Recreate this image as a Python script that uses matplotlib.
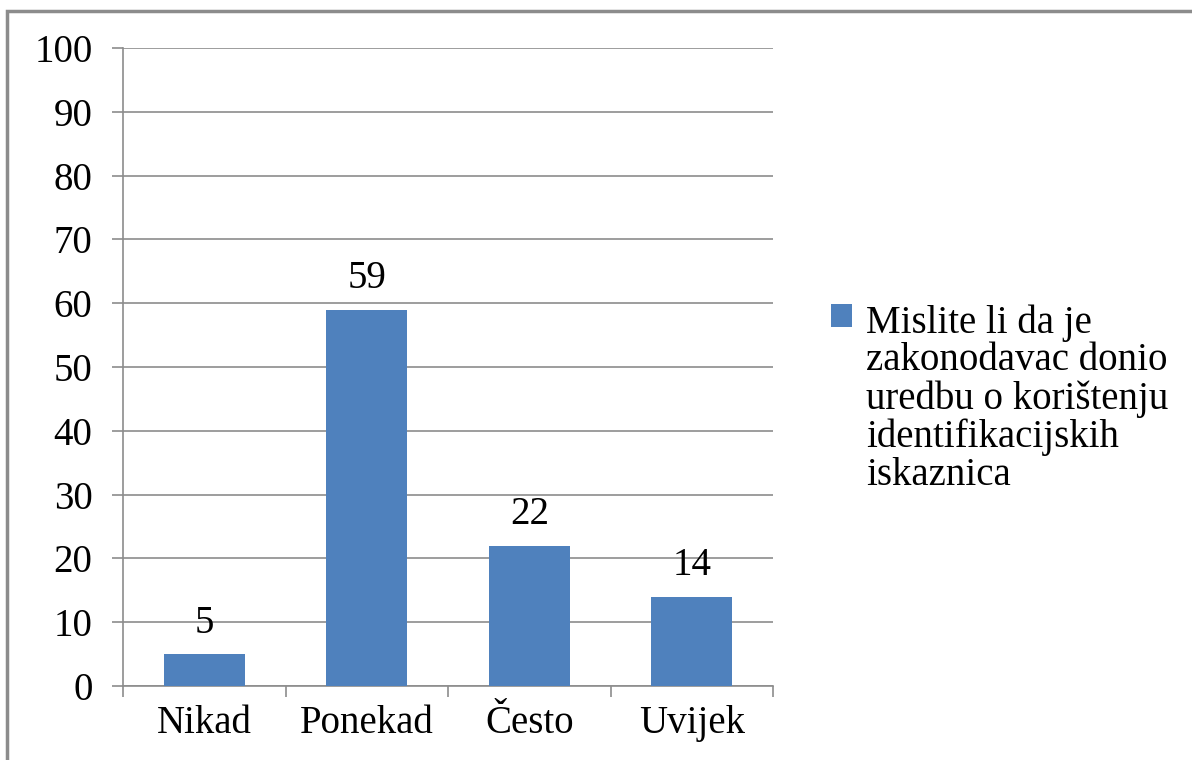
import matplotlib.pyplot as plt
import numpy as np
from matplotlib.patches import Rectangle

categories = ["Nikad", "Ponekad", "Često", "Uvijek"]
values = [5, 59, 22, 14]
series_label = "Mislite li da je\nzakonodavac donio\nuredbu o korištenju\nidentifikacijskih\niskaznica"
yticks = [0, 10, 20, 30, 40, 50, 60, 70, 80, 90, 100]

bar_color = "#4F81BD"
line_color = "#8C8C8C"

plt.rcParams["font.family"] = ["Liberation Serif", "DejaVu Serif"]

fig = plt.figure(figsize=(11.92, 7.6), dpi=100)
ax = fig.add_axes([123 / 1192, 1 - 686 / 760, 650 / 1192, 638 / 760])

# outer chart border (cut off at right / bottom like the original)
fig.patches.append(Rectangle((7 / 1192, -0.05), 1.1, 1 - 11 / 760 + 0.05,
                             transform=fig.transFigure, fill=False,
                             edgecolor=line_color, linewidth=2.5))

x = np.arange(len(categories))
bars = ax.bar(x, values, width=0.5, color=bar_color, label=series_label, zorder=3)

for xi, v in zip(x, values):
    ax.annotate(str(v), (xi, v), xytext=(0, 9), textcoords="offset points",
                ha="center", va="bottom", fontsize=28)

ax.set_xlim(-0.5, 3.5)
ax.set_ylim(0, 100)
ax.set_yticks(yticks)
ax.set_yticklabels([str(t) for t in yticks], fontsize=28)
ax.yaxis.grid(True, color=line_color, linewidth=1.2, zorder=0)
ax.tick_params(axis="y", length=8, width=1.2, color=line_color, pad=14)

# category boundaries get the tick marks, labels sit in the middle
ax.set_xticks(np.arange(-0.5, 4, 1.0))
ax.set_xticklabels([])
ax.set_xticks(x, minor=True)
ax.set_xticklabels(categories, minor=True, fontsize=28)
ax.tick_params(axis="x", which="major", length=8, width=1.2, color=line_color)
ax.tick_params(axis="x", which="minor", length=0, pad=14)

for side in ["top", "right"]:
    ax.spines[side].set_visible(False)
for side in ["left", "bottom"]:
    ax.spines[side].set_color(line_color)
    ax.spines[side].set_linewidth(1.2)

leg = fig.legend(loc="upper left", bbox_to_anchor=(831 / 1192, 1 - 304 / 760),
                 frameon=False, fontsize=28, handlelength=0.55, handleheight=0.55,
                 handletextpad=0.35, borderpad=0, borderaxespad=0)
for t in leg.get_texts():
    t.set_linespacing(1.03)
# put the colour square next to the first line, not the middle of the block
for row in leg._legend_handle_box.get_children():
    for entry in row.get_children():
        entry.align = "top"

fig.savefig("out.png", dpi=100)
